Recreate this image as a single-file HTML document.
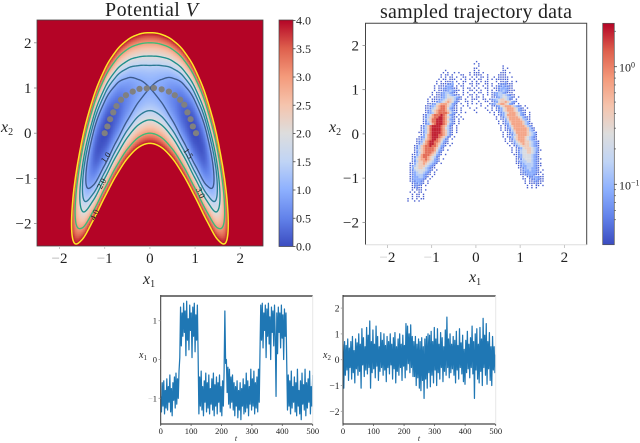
<!DOCTYPE html>
<html lang="en">
<head>
<meta charset="utf-8">
<title>Potential V and sampled trajectory data</title>
<style>
html,body{margin:0;padding:0;background:#fff;width:640px;height:443px;overflow:hidden}
svg{display:block}
text{font-family:"Liberation Serif",serif;fill:#222}
.it{font-style:italic}
</style>
</head>
<body>
<svg id="fig" xmlns="http://www.w3.org/2000/svg" width="640" height="443" viewBox="0 0 640 443">
<defs>
<linearGradient id="cw" x1="0" y1="1" x2="0" y2="0">
<stop offset="0" stop-color="#3b4cc0"/><stop offset=".125" stop-color="#6282ea"/><stop offset=".25" stop-color="#8db0fe"/><stop offset=".375" stop-color="#c0d4f5"/><stop offset=".5" stop-color="#dddddd"/><stop offset=".625" stop-color="#f5c4ad"/><stop offset=".75" stop-color="#f49a7b"/><stop offset=".875" stop-color="#de604d"/><stop offset="1" stop-color="#b40426"/>
</linearGradient>
<filter id="soft" x="-5%" y="-5%" width="110%" height="110%"><feGaussianBlur stdDeviation="0.45"/></filter>
<filter id="softer" x="-5%" y="-5%" width="110%" height="110%"><feGaussianBlur stdDeviation="0.28"/></filter>
<clipPath id="clipA"><rect x="37" y="20" width="226" height="226"/></clipPath>
<clipPath id="clipC"><rect x="160.7" y="296" width="152" height="128"/></clipPath>
<clipPath id="clipD"><rect x="343" y="296" width="152.7" height="128"/></clipPath>
</defs>

<text x="105" y="16" font-size="20" textLength="93" lengthAdjust="spacing">Potential <tspan class="it">V</tspan></text>
<text x="380" y="18" font-size="20" textLength="192" lengthAdjust="spacing">sampled trajectory data</text>

<g id="panelA">
<rect x="37" y="20" width="226" height="226" fill="#b40426"/>
<g id="heatA" clip-path="url(#clipA)" filter="url(#soft)"></g>
<g id="contoursA" clip-path="url(#clipA)" fill="none"></g>
<g id="dotsA"></g>
<g font-size="8.5" text-anchor="middle">
<text transform="translate(108,159) rotate(-55)">1.0</text>
<text transform="translate(186,155) rotate(55)">1.5</text>
<text transform="translate(104,185) rotate(-60)">2.0</text>
<text transform="translate(198,194) rotate(65)">3.0</text>
<text transform="translate(97,216) rotate(-65)">4.0</text>
</g>
<rect x="37" y="20" width="226" height="226" fill="none" stroke="#444" stroke-width=".8"/>
<g id="axesA"></g>
<text x="143" y="284" font-size="16"><tspan class="it">x</tspan><tspan font-size="10" dy="3">1</tspan></text>
<text x="1" y="132" font-size="16"><tspan class="it">x</tspan><tspan font-size="10" dy="3">2</tspan></text>
<rect x="279" y="20" width="14" height="226.5" fill="url(#cw)" stroke="#444" stroke-width=".7"/>
<g id="cbarA"></g>
</g>

<g id="panelB">
<g id="heatB" filter="url(#softer)"></g>
<path d="M365.5 244.7V23.3H586.7V244.7" fill="none" stroke="#444" stroke-width="1"/>
<path d="M365.5 244.7H586.7" fill="none" stroke="#ddd" stroke-width="1"/>
<g id="axesB"></g>
<text x="469" y="282" font-size="16"><tspan class="it">x</tspan><tspan font-size="10" dy="3">1</tspan></text>
<text x="329" y="132" font-size="16"><tspan class="it">x</tspan><tspan font-size="10" dy="3">2</tspan></text>
<rect x="602.7" y="23.3" width="11.6" height="221.4" fill="url(#cw)" stroke="#555" stroke-width=".7"/>
<g id="cbarB"></g>
</g>

<g id="panelC">
<path id="lineC" clip-path="url(#clipC)" fill="none" stroke="#1f77b4" stroke-width="1.25" stroke-linejoin="round"/>
<path d="M160.7 296H312.7" stroke="#777" stroke-width="2"/>
<path d="M160.7 424H312.7" stroke="#666" stroke-width="1.6"/>
<path d="M160.7 295V425" stroke="#333" stroke-width="1"/>
<path d="M312.7 296V424" stroke="#e8e8e8" stroke-width="1"/>
<g id="axesC"></g>
<text x="236" y="441" font-size="8" class="it" text-anchor="middle">t</text>
<text x="139" y="358" font-size="10"><tspan class="it">x</tspan><tspan font-size="7" dy="2">1</tspan></text>
</g>

<g id="panelD">
<path id="lineD" clip-path="url(#clipD)" fill="none" stroke="#1f77b4" stroke-width="1.25" stroke-linejoin="round"/>
<path d="M343 296H495.7" stroke="#777" stroke-width="2"/>
<path d="M343 424H495.7" stroke="#666" stroke-width="1.6"/>
<path d="M343 295V425" stroke="#333" stroke-width="1"/>
<path d="M495.7 296V424" stroke="#e8e8e8" stroke-width="1"/>
<g id="axesD"></g>
<text x="419" y="441" font-size="8" class="it" text-anchor="middle">t</text>
<text x="323" y="358" font-size="10"><tspan class="it">x</tspan><tspan font-size="7" dy="2">2</tspan></text>
</g>
</svg>

<script>
/* ---------- chart data ---------- */
var potentialX = [0,0.25,0.5,0.75,1,1.25,1.5,1.75,2,2.25,2.5];
var potentialY = [2.5,2.25,2,1.75,1.5,1.25,1,0.75,0.5,0.25,0,-0.25,-0.5,-0.75,-1,-1.25,-1.5,-1.75,-2,-2.25,-2.5];
var potentialRows = [
[5.5,5.76,6.69,8.7,12.5,19.07,29.69,45.89,69.5,102.63,147.69],
[4.13,4.32,5.06,6.76,10.13,16.14,26.06,41.45,64.13,96.2,140.06],
[3,3.14,3.69,5.07,8,13.45,22.69,37.26,59,90.01,132.69],
[2.13,2.2,2.56,3.64,6.13,11.01,19.56,33.32,54.13,84.07,125.56],
[1.5,1.51,1.69,2.45,4.5,8.82,16.69,29.64,49.5,78.39,118.69],
[1.13,1.07,1.06,1.51,3.13,6.89,14.06,26.2,45.13,72.95,112.06],
[1,0.89,0.69,0.82,2,5.2,11.69,23.01,41,67.76,105.69],
[1.13,0.95,0.56,0.39,1.13,3.76,9.56,20.07,37.13,62.82,99.56],
[1.5,1.26,0.69,0.2,0.5,2.57,7.69,17.39,33.5,58.14,93.69],
[2.13,1.82,1.06,0.26,0.13,1.64,6.06,14.95,30.13,53.7,88.06],
[3,2.64,1.69,0.57,0,0.95,4.69,12.76,27,49.51,82.69],
[4.13,3.7,2.56,1.14,0.13,0.51,3.56,10.82,24.13,45.57,77.56],
[5.5,5.01,3.69,1.95,0.5,0.32,2.69,9.14,21.5,41.89,72.69],
[7.13,6.57,5.06,3.01,1.13,0.39,2.06,7.7,19.13,38.45,68.06],
[9,8.39,6.69,4.32,2,0.7,1.69,6.51,17,35.26,63.69],
[11.13,10.45,8.56,5.89,3.13,1.26,1.56,5.57,15.13,32.32,59.56],
[13.5,12.76,10.69,7.7,4.5,2.07,1.69,4.89,13.5,29.64,55.69],
[16.13,15.32,13.06,9.76,6.13,3.14,2.06,4.45,12.13,27.2,52.06],
[19,18.14,15.69,12.07,8,4.45,2.69,4.26,11,25.01,48.69],
[22.13,21.2,18.56,14.64,10.13,6.01,3.56,4.32,10.13,23.07,45.56],
[25.5,24.51,21.69,17.45,12.5,7.82,4.69,4.64,9.5,21.39,42.69]
];
var contourLevels = [1,1.5,2,3,4];
var contourColors = ['#3d5a8c','#2c7a94','#1f8f8c','#3dbb78','#fde725'];
var pathPointsX = [-1,-0.94,-0.88,-0.81,-0.74,-0.64,-0.53,-0.38,-0.23,-0.07,0.09,0.26,0.42,0.55,0.67,0.76,0.83,0.9,0.95,1.02];
var pathPointsY = [0,0.15,0.31,0.46,0.6,0.74,0.84,0.92,0.98,0.99,1,0.97,0.92,0.84,0.74,0.63,0.46,0.31,0.15,0];
var axisTicks = [-2,-1,0,1,2];
var potentialBarTicks = [0,0.5,1,1.5,2,2.5,3,3.5,4];
var densityBarMajor = [1,0.1];
var densityBarMinor = [0.05,0.06,0.07,0.08,0.09,0.2,0.3,0.4,0.5,0.6,0.7,0.8,0.9,2];
var densityLevels = [0,0.05,0.075,0.11,0.17,0.28,0.45,0.75,1.25,2.0];
var densityFirstY = 1.65;
var densityBinSize = 0.05;
var densityRowsLeft = [
"",
"...............................1",
"",
"...............................1",
"..................1............1",
".................1.1..1.1....1.1",
"................1.11.1...11..1.1.",
"................1.1.11.1..11..1.",
"...............1.11.111..1.1.1.1",
"..............1.1.1112.1..11..1.1",
"..............1.111223..1.1..11.1",
".............1.1112332.1.11...1.",
".............1.112233211..1.11.1",
".............1.1122343211.1..11.",
"............1.1123443211..1.1..1",
"............1.11234543211.1..11.",
"...........1.1112345554321..1.1.1",
"..........1.11123456654211.1..11",
"..........1.1123456765321..11.1.",
"..........11235677765321.1..1.1.",
".........112346788764311..1.1...",
".........112456788753211.1...1..",
".........123567888764211.1.....1",
".........123467888875321.1.1....",
"........124578889875321.1.......",
"........1246788998764211.1......",
"........135688999875321.1.1.....",
"........124688999876421.1.......",
"........123578999875321.1.......",
".......124689999876421.1........",
".......124689999875421.1........",
".......134689999876421.1........",
"......1124689999876421.1........",
".......135789998876421..........",
"......123578999876421.1.........",
".....112467899876421.1..........",
".....123578998875321............",
".....124678998764211.1..........",
"....124678898875321.1...........",
"....12467888876421..............",
"....13567888875321.1............",
"....1246788876421...............",
"...11357888765321.1.............",
"...1246788765421................",
"...1356778765321.1..............",
"...1246677654321................",
"..1135667654321.1...............",
"..124566654321..................",
"..135566543211..................",
"..12455554321.1.................",
"..1234554321.1..................",
"..1234443211.1..................",
"..123344321.1...................",
"..12333321.1....................",
"..1223321.1.....................",
"...122321.1.....................",
"...12211.1......................",
"...11211........................",
"...1.111.1......................",
"..1.1.11........................",
"...1.11.1.......................",
"...1.11.1.......................",
".1.1.1.11.......................",
".1..1.1........................."
];
var densityRowsRight = [
"1",
".1",
".1..........1",
"1...........1.1",
".1..........11",
"11.1.......111.1",
"111..1....1111",
"1.11.1..1.11111.1",
".11..1.1.111111",
"1.1.11...1.1121.1.1",
".1..11.1..1222111",
"1..1.1.1.12232211",
".1..11..112333211",
"1.1..1.1.123432111",
".11..1.1234432111",
"1..1.1.12344543211",
".1.1...11234554321.1",
"1..11.12345665421.1",
".1..11.123566765321",
"1.1...123567765321.1",
"..1..1.11235677764321.1",
"1...1..1.1235677765321.1",
".....1.1.12356777653211",
"1.....1.1.1235677765321.1",
"........1.1235777765321.1",
".........1.12467777653211",
".........1.11357777764311",
"..........1.1246777776431",
"..........1.12357777764311",
"...........1.1246777776431",
"...........1.12357777776421",
"...........1.11246777776431",
"............1.12357777765431",
"............1.11246777765431",
"............1.12356777654321",
".............1.1246777654321",
".............1.11356776654321",
"..............1.1245676654321",
"...............1.124566654321",
"................1.12356665431",
"................1.124556654311",
"................1.12455665421",
".................112355554321",
"..................12355554321",
"..................112455543211",
"..................12344554321",
"..................112344443211",
"...................12334443211",
"...................1123443321",
"....................123343321.1",
"....................1223333211",
"....................112233211.1",
".....................1.12233211",
".....................11.1223211",
"......................1.1122111",
"......................1.111211",
".......................1.1.11.1",
".......................1.1.1",
"",
"",
"",
"",
"",
""
];
var timeTicks = [0,100,200,300,400,500];
var x1Ticks = [-1,0,1];
var x2Ticks = [-2,-1,0,1,2];
var x1Series = [
-0.95,-1.35,-0.6,-1.2,-0.55,-1.4,-0.8,-1.25,-0.5,-1.3,-0.7,-1.1,-0.4,-1.35,-0.75,-1.45,-0.6,-1.05,-0.45,-1.25,-0.35,-1.15,-0.5,-1.0,-0.3,
0.05,1.35,0.35,1.2,0.6,1.45,0.7,1.25,0.1,1.5,0.5,1.05,0.25,1.4,0.75,1.2,0.05,1.35,0.6,1.45,0.2,1.15,0.5,1.4,0.1,
-1.4,-0.45,-1.2,-0.3,-1.3,-0.7,-1.45,-0.55,-1.1,-0.35,-1.35,-0.6,-1.25,-0.4,-1.4,-0.75,-1.15,-0.5,-1.3,-0.35,-1.45,-0.65,-1.2,-0.45,-1.4,-0.6,-1.1,-0.4,-1.35,-0.7,-1.45,-0.55,-1.2,
-0.3,1.25,
-0.1,0.0,-0.85,-0.2,-1.15,-0.25,-1.25,-0.45,-1.1,-0.4,-1.3,-0.6,-1.45,-0.7,-1.2,-0.55,-1.5,-0.8,-1.3,-0.6,-1.55,-0.75,-1.2,-0.5,-1.4,-0.65,-1.35,-0.35,-1.25,-0.55,-1.45,-0.7,-1.15,-0.25,-1.3,-0.5,-1.2,-0.3,-1.4,-0.6,-1.25,-0.45,-1.35,-0.25,-1.1,
0.2,1.4,0.5,1.45,0.3,1.2,0.75,1.4,0.05,1.3,0.6,1.45,0.4,1.1,0.0,1.35,0.7,1.25,0.35,1.4,0.6,-0.95,1.2,0.15,1.35,0.7,1.2,0.3,1.4,0.55,1.15,0.0,1.3,0.6,1.2,
-0.1,-1.3,-0.4,-1.2,-0.55,-1.4,-0.3,-1.25,-0.7,-1.1,-0.45,-1.35,-0.6,-1.45,-0.25,-1.2,-0.8,-1.4,-0.55,-1.55,-0.35,-1.15,-0.65,-1.3,-0.25,-1.45,-0.6,-1.25,-0.5,-1.1,-0.3,-1.4,-0.7,-1.2,-0.4
];
var x2Series = [
0.6,-1.1,0.7,-0.6,0.55,-0.4,0.8,-0.8,0.45,-0.3,0.7,-0.75,0.9,-0.5,0.35,-0.9,0.8,-0.35,0.65,-0.6,1.0,-0.45,0.6,-1.1,1.2,-0.2,0.85,-0.65,0.5,-0.4,1.25,-0.55,0.95,-0.3,1.5,-1.1,0.7,-0.5,1.15,-0.35,0.6,-0.7,1.3,-0.25,0.9,-0.8,0.5,-0.45,1.05,-0.3,
0.75,-0.6,1.0,-0.4,0.55,-0.85,0.9,-0.3,0.7,-0.55,1.0,-0.2,0.6,-0.75,0.85,-0.35,1.05,-0.9,0.5,-0.45,0.8,-0.6,1.0,-0.3,0.6,-0.8,0.95,-0.25,0.55,-0.7,1.4,-0.4,1.3,-0.15,1.0,-0.5,1.35,-0.3,0.9,-0.65,0.7,-0.65,0.9,-1.0,0.6,-0.7,0.8,-1.1,
0.7,-1.2,0.85,-0.8,0.5,-1.5,0.8,-0.75,0.9,-1.1,1.0,-0.5,0.95,-1.05,1.1,-0.6,0.7,-0.9,1.25,-0.4,0.8,-1.0,1.2,-0.5,0.6,-0.75,1.05,-0.3,0.85,-0.85,0.5,-0.45,1.15,-0.6,1.65,-0.3,0.8,-0.7,1.0,-0.5,0.6,-0.35,0.9,-0.6,0.75,-0.9,1.1,-0.4,
0.55,-0.75,1.2,-0.3,0.65,-0.55,0.95,-0.85,0.4,-0.95,0.75,-0.5,1.1,-0.35,0.6,-0.7,0.85,-0.3,1.3,-0.55,0.7,-1.5,1.0,-0.4,1.2,-0.75,0.6,-0.9,1.25,-0.45,0.8,-1.0,1.6,-0.3,0.95,-0.6,1.4,-0.95,0.7,-0.35,1.05,-0.8,0.5,-1.0,0.9,-0.4,0.5,-0.5,0.2
];

/* ---------- scales ---------- */
var NS = 'http://www.w3.org/2000/svg';
function xA(v){return 149.9 + 45.2*v;}
function yA(v){return 133.2 - 45.2*v;}
function yBarA(v){return 246.5 - 56.5*v;}
function xB(v){return 475.9 + 44.24*v;}
function yB(v){return 133.9 - 44.24*v;}
function yBarB(v){return 66.7 - 117.6*Math.log10(v);}
function xC(t){return 160.7 + t*152/500;}
function yC(v){return 359.5 - 38.8*v;}
function xD(t){return 343 + t*152.7/500;}
function yD(v){return 359.7 - 25.8*v;}
var densityMin = 0.0417, densityMax = 2.34;

var cwStops = [[59,76,192],[98,130,234],[141,176,254],[192,212,245],[221,221,221],[245,196,173],[244,154,123],[222,96,77],[180,4,38]];
function coolwarm(f){
  f = Math.max(0,Math.min(1,f))*8;
  var i = Math.min(7,Math.floor(f)), t = f-i, a = cwStops[i], b = cwStops[i+1];
  return 'rgb('+Math.round(a[0]+(b[0]-a[0])*t)+','+Math.round(a[1]+(b[1]-a[1])*t)+','+Math.round(a[2]+(b[2]-a[2])*t)+')';
}
function svgEl(tag,parent){
  var el = document.createElementNS(NS,tag);
  parent.appendChild(el);
  return el;
}
function addText(parent,str,x,y,size,anchor,name,minusColor){
  var el = svgEl('text',parent);
  
  
  el.setAttribute('x',x);
  el.setAttribute('y',y);
  el.setAttribute('font-size',size);
  el.setAttribute('text-anchor',anchor);
  if(str.charAt(0)==='\u2212' && minusColor){
    var m = svgEl('tspan',el);
    m.setAttribute('fill',minusColor);
    m.textContent = '\u2212';
    var r = svgEl('tspan',el);
    r.textContent = str.slice(1);
  } else {
    el.textContent = str;
  }
  return el;
}
function addTick(parent,x1,y1,x2,y2,color,name){
  var el = svgEl('line',parent);
  
  
  el.setAttribute('x1',x1);
  el.setAttribute('y1',y1);
  el.setAttribute('x2',x2);
  el.setAttribute('y2',y2);
  el.setAttribute('stroke',color);
  el.setAttribute('stroke-width','.8');
}
function fmt(v){return (v<0?'\u2212':'')+Math.abs(v);}

/* ---------- potential field from the grid values ---------- */
var halfN = potentialX.length-1, rowN = potentialY.length;
function gridAt(i,j){
  i = Math.abs(i);
  if(i>halfN) return 3*gridAt(halfN,j)-3*gridAt(halfN-1,j)+gridAt(halfN-2,j);
  if(j<0) return 3*gridAt(i,0)-3*gridAt(i,1)+gridAt(i,2);
  if(j>=rowN) return 3*gridAt(i,rowN-1)-3*gridAt(i,rowN-2)+gridAt(i,rowN-3);
  return potentialRows[j][i];
}
function cr(a,b,c,d,t){return b+0.5*t*(c-a+t*(2*a-5*b+4*c-d+t*(3*(b-c)+d-a)));}
function sampleV(x,y){
  var fx = x/0.25, fy = (2.5-y)/0.25;
  var i = Math.floor(fx), j = Math.floor(fy), tx = fx-i, ty = fy-j, col = [];
  for(var k=-1;k<=2;k++){
    col.push(cr(gridAt(i-1,j+k),gridAt(i,j+k),gridAt(i+1,j+k),gridAt(i+2,j+k),tx));
  }
  return cr(col[0],col[1],col[2],col[3],ty);
}

/* heatmap cells */
(function(){
  var g = document.getElementById('heatA');
  for(var py=20;py<246;py+=2){
    for(var px=37;px<263;px+=2){
      var v = sampleV((px+1-149.9)/45.2,(133.2-(py+1))/45.2);
      if(v>=4) continue;
      var c = svgEl('rect',g);
      
      
      c.setAttribute('x',px);
      c.setAttribute('y',py);
      c.setAttribute('width',2.2);
      c.setAttribute('height',2.2);
      c.setAttribute('fill',coolwarm(v/4));
    }
  }
})();

/* contours: marching squares over the field */
(function(){
  var g = document.getElementById('contoursA');
  var N = 226, field = [];
  for(var j=0;j<=N;j++){
    var row = [];
    for(var i=0;i<=N;i++){
      row.push(sampleV((37+i-149.9)/45.2,(133.2-(20+j))/45.2));
    }
    field.push(row);
  }
  contourLevels.forEach(function(level,li){
    var d = [];
    function cross(a,b){return (level-a)/(b-a);}
    for(var j=0;j<N;j++){
      for(var i=0;i<N;i++){
        var a=field[j][i],b=field[j][i+1],c=field[j+1][i+1],e=field[j+1][i];
        var pts = [];
        if((a<level)!==(b<level)) pts.push([37+i+cross(a,b),20+j]);
        if((b<level)!==(c<level)) pts.push([37+i+1,20+j+cross(b,c)]);
        if((e<level)!==(c<level)) pts.push([37+i+cross(e,c),20+j+1]);
        if((a<level)!==(e<level)) pts.push([37+i,20+j+cross(a,e)]);
        if(pts.length>=2) d.push('M'+pts[0][0].toFixed(2)+' '+pts[0][1].toFixed(2)+'L'+pts[1][0].toFixed(2)+' '+pts[1][1].toFixed(2));
        if(pts.length===4) d.push('M'+pts[2][0].toFixed(2)+' '+pts[2][1].toFixed(2)+'L'+pts[3][0].toFixed(2)+' '+pts[3][1].toFixed(2));
      }
    }
    var p = svgEl('path',g);
    
    
    p.setAttribute('data-level', level);
    p.setAttribute('d',d.join(''));
    p.setAttribute('stroke',contourColors[li]);
    p.setAttribute('stroke-width',li===4?1.5:1.35);
    p.setAttribute('stroke-linecap','round');
  });
})();

/* transition path dots */
pathPointsX.forEach(function(x,i){
  var c = svgEl('circle',document.getElementById('dotsA'));
  
  
  c.setAttribute('cx',xA(x));
  c.setAttribute('cy',yA(pathPointsY[i]));
  c.setAttribute('r',3.1);
  c.setAttribute('fill','#808080');
});

/* axes for the two large panels */
(function(){
  var a = document.getElementById('axesA'), b = document.getElementById('axesB');
  axisTicks.forEach(function(v){
    addTick(a,xA(v),246,xA(v),249,'#bbb','potential-x-tick');
    addText(a,fmt(v),xA(v),263,15,'middle','potential-x-tick-label','#aaa');
    addTick(a,34,yA(v),37,yA(v),'#888','potential-y-tick');
    addText(a,fmt(v),31.5,yA(v)+5,15,'end','potential-y-tick-label');
    addTick(b,xB(v),245,xB(v),248,'#bbb','density-x-tick');
    addText(b,fmt(v),xB(v),262,15,'middle','density-x-tick-label','#ccc');
    addTick(b,362.5,yB(v),365.5,yB(v),'#888','density-y-tick');
    addText(b,fmt(v),359,yB(v)+5,15,'end','density-y-tick-label');
  });
  var ca = document.getElementById('cbarA');
  potentialBarTicks.forEach(function(v){
    addTick(ca,293,yBarA(v),295.5,yBarA(v),'#444','potential-colorbar-tick');
    addText(ca,v.toFixed(1),296,yBarA(v)+4,12,'start','potential-colorbar-label');
  });
  var cb = document.getElementById('cbarB');
  densityBarMinor.forEach(function(v){
    addTick(cb,614.3,yBarB(v),616,yBarB(v),'#666','density-colorbar-minor-tick');
  });
  densityBarMajor.forEach(function(v){
    addTick(cb,614.3,yBarB(v),617,yBarB(v),'#444','density-colorbar-major-tick');
    var t = addText(cb,'10',619,yBarB(v)+5,12,'start','density-colorbar-label');
    var s = svgEl('tspan',t);
    s.setAttribute('font-size','8');
    s.setAttribute('dy','-4');
    s.textContent = v===1 ? '0' : '\u22121';
  });
})();

/* density histogram cells */
(function(){
  var g = document.getElementById('heatB');
  var lo = Math.log10(densityMin), hi = Math.log10(densityMax);
  function drawRows(rows,startCol){
    rows.forEach(function(row,j){
      var yVal = densityFirstY - j*densityBinSize;
      for(var i=0;i<row.length;i++){
        var d = row.charCodeAt(i)-48;
        if(d<1||d>9) continue;
        var xVal = -1.6 + (startCol+i)*densityBinSize;
        var full = densityBinSize*44.24+0.05;
        var size = d===1 ? 1.4 : (d===2 ? 1.9 : full);
        var r = svgEl('rect',g);
        
        
        r.setAttribute('x',xB(xVal));
        r.setAttribute('y',yB(yVal));
        r.setAttribute('width',size);
        r.setAttribute('height',size);
        r.setAttribute('fill',coolwarm((Math.log10(densityLevels[d])-lo)/(hi-lo)));
      }
    });
  }
  drawRows(densityRowsLeft,0);
  drawRows(densityRowsRight,32);
})();

/* trajectories */
(function(){
  function linePath(series,sx,sy){
    var dt = 500/(series.length-1), d = '';
    series.forEach(function(v,i){
      d += (i?'L':'M')+sx(i*dt).toFixed(2)+' '+sy(v).toFixed(2);
    });
    return d;
  }
  document.getElementById('lineC').setAttribute('d',linePath(x1Series,xC,yC));
  document.getElementById('lineD').setAttribute('d',linePath(x2Series,xD,yD));
  var c = document.getElementById('axesC'), e = document.getElementById('axesD');
  timeTicks.forEach(function(t){
    addTick(c,xC(t),424,xC(t),426,'#555','x1-time-tick');
    addText(c,String(t),xC(t),434,8.5,'middle','x1-time-tick-label');
    addTick(e,xD(t),424,xD(t),426,'#555','x2-time-tick');
    addText(e,String(t),xD(t),434,8.5,'middle','x2-time-tick-label');
  });
  x1Ticks.forEach(function(v){
    addTick(c,158.5,yC(v),160.7,yC(v),'#999','x1-value-tick');
    addText(c,fmt(v),157,yC(v)+3,8.5,'end','x1-value-tick-label','#bbb');
  });
  x2Ticks.forEach(function(v){
    addTick(e,340.8,yD(v),343,yD(v),'#999','x2-value-tick');
    addText(e,fmt(v),339.5,yD(v)+3.5,9.5,'end','x2-value-tick-label');
  });
})();
</script>
</body>
</html>
